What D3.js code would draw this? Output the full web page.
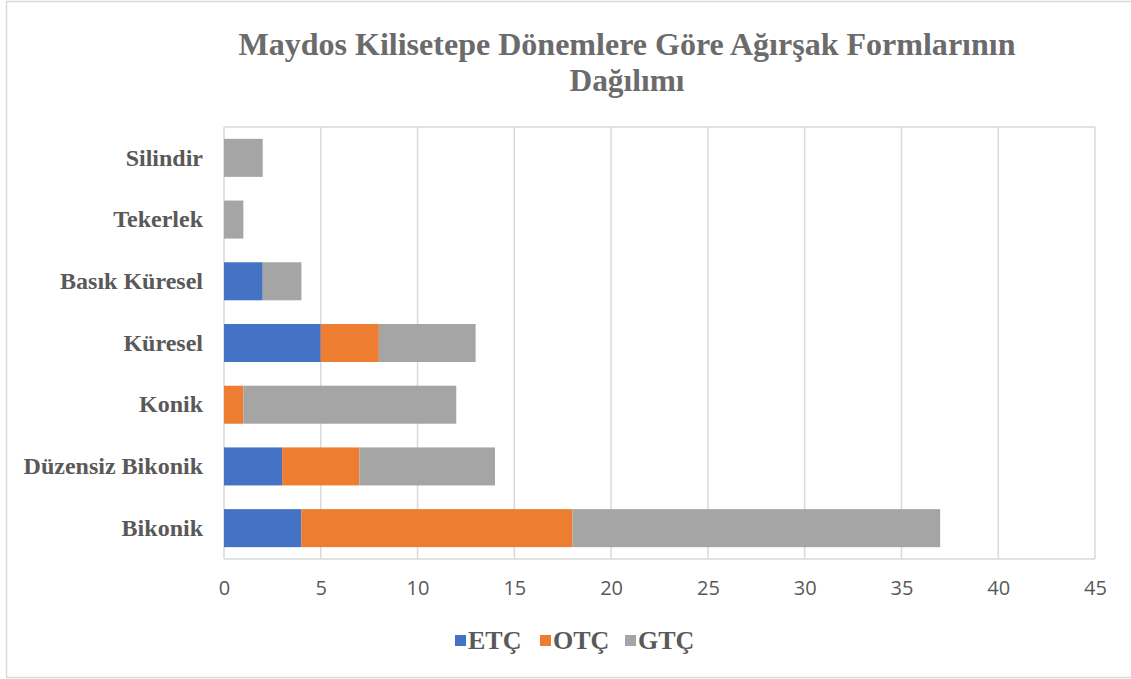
<!DOCTYPE html>
<html>
<head>
<meta charset="utf-8">
<script src="https://cdn.jsdelivr.net/npm/d3@7"></script>
<style>
  html, body { margin: 0; padding: 0; background: #fff; }
  svg { display: block; }
</style>
</head>
<body>
<svg id="chart" width="1131" height="679"></svg>
<script>
// Spindle whorl forms, listed top to bottom
const categories = ["Silindir", "Tekerlek", "Basık Küresel", "Küresel", "Konik", "Düzensiz Bikonik", "Bikonik"];
const seriesNames = ["ETÇ", "OTÇ", "GTÇ"];
const etc = [0, 0, 2, 5, 0, 3, 4];
const otc = [0, 0, 0, 3, 1, 4, 14];
const gtc = [2, 1, 2, 5, 11, 7, 19];
const xTicks = [0, 5, 10, 15, 20, 25, 30, 35, 40, 45];
const titleLines = ["Maydos Kilisetepe Dönemlere Göre Ağırşak Formlarının", "Dağılımı"];
const colors = ["#4472C4", "#ED7D31", "#A5A5A5"];

const rows = categories.map((c, i) => ({ cat: c, "ETÇ": etc[i], "OTÇ": otc[i], "GTÇ": gtc[i] }));
const stacked = d3.stack().keys(seriesNames)(rows);

const svg = d3.select("#chart");
const plot = { left: 224, right: 1095, top: 127, bottom: 559 };

// chart frame
svg.append("path")
  .attr("d", "M1131,1.5 H6.5 V677.5 H1131")
  .attr("fill", "none").attr("stroke", "#d9d9d9").attr("stroke-width", 1.5);

const x = d3.scaleLinear().domain([0, 45]).range([plot.left, plot.right]);
const y = d3.scaleBand().domain(categories).range([plot.top, plot.bottom]).paddingInner(0.384).paddingOuter(0.192);

// gridlines and plot-area outline
svg.append("g").selectAll("line").data(xTicks).join("line")
  .attr("x1", d => x(d)).attr("x2", d => x(d))
  .attr("y1", plot.top).attr("y2", plot.bottom)
  .attr("stroke", "#d9d9d9").attr("stroke-width", 1.5);
svg.append("g").selectAll("line").data([plot.top, plot.bottom]).join("line")
  .attr("x1", plot.left).attr("x2", plot.right)
  .attr("y1", d => d).attr("y2", d => d)
  .attr("stroke", "#d9d9d9").attr("stroke-width", 1.5);

// stacked bars
svg.append("g").selectAll("g").data(stacked).join("g")
  .attr("fill", (d, i) => colors[i])
  .selectAll("rect").data(d => d).join("rect")
  .attr("x", d => x(d[0]))
  .attr("width", d => x(d[1]) - x(d[0]))
  .attr("y", d => y(d.data.cat))
  .attr("height", y.bandwidth());

// x axis labels
const xAxis = d3.axisBottom(x).tickValues(xTicks).tickSize(0).tickPadding(0);
const gx = svg.append("g").attr("transform", `translate(0,${plot.bottom + 22})`).call(xAxis);
gx.select(".domain").remove();
gx.selectAll("text")
  .attr("font-family", "'Open Sans', sans-serif").attr("font-size", 20)
  .attr("fill", "#595959").attr("dy", "0.71em");

// y axis labels
const yAxis = d3.axisLeft(y).tickSize(0).tickPadding(0);
const gy = svg.append("g").attr("transform", `translate(${plot.left - 21},0)`).call(yAxis);
gy.select(".domain").remove();
gy.selectAll("text")
  .attr("font-family", "'Liberation Serif', 'Times New Roman', serif").attr("font-size", 24)
  .attr("font-weight", "bold").attr("fill", "#595959").attr("dy", "0.32em");

// title, two lines
const titleY = [55, 91];
const titleW = [777, 115];
svg.append("g").selectAll("text").data(titleLines).join("text")
  .attr("x", 627).attr("y", (d, i) => titleY[i])
  .attr("text-anchor", "middle")
  .attr("textLength", (d, i) => titleW[i]).attr("lengthAdjust", "spacingAndGlyphs")
  .attr("font-family", "'Liberation Serif', 'Times New Roman', serif")
  .attr("font-size", 32).attr("font-weight", "bold").attr("fill", "#6b6b6b")
  .text(d => d);

// legend
const legendX = [455, 540, 625];
const lg = svg.append("g").selectAll("g").data(seriesNames).join("g")
  .attr("transform", (d, i) => `translate(${legendX[i]},635)`);
lg.append("rect").attr("width", 11).attr("height", 11).attr("fill", (d, i) => colors[i]);
lg.append("text").attr("x", 13).attr("y", 14)
  .attr("font-family", "'Liberation Serif', 'Times New Roman', serif")
  .attr("font-size", 26).attr("font-weight", "bold").attr("fill", "#595959")
  .text(d => d);
</script>
</body>
</html>
